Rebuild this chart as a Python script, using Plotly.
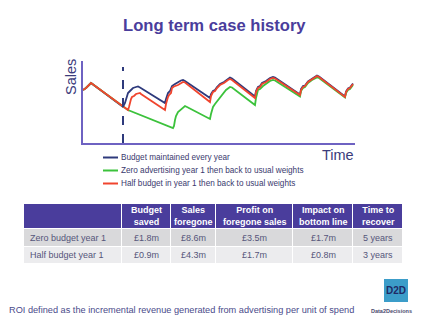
import plotly.graph_objects as go

# ---------------- data ----------------
series_names = [
    "Budget maintained every year",
    "Zero advertising year 1 then back to usual weights",
    "Half budget in year 1 then back to usual weights",
]
series_colors = ["#2E3A7C", "#3CC23C", "#F0452E"]

blue_t = [0, 3, 8, 40, 42, 43, 45, 47, 50, 53, 55, 57, 82, 83, 85, 87, 89, 92, 95, 98, 100, 102,
          127, 128, 130, 132, 134, 137, 141, 145, 147, 149, 172, 173, 175, 177, 179, 183, 187, 190, 192,
          217, 218, 220, 222, 225, 229, 234, 236, 262, 263, 265, 267, 270]
blue_s = [53, 55, 60, 36, 40, 43, 50, 52, 55, 56, 56.5, 55.5, 40, 44, 50, 52, 57, 59, 61, 62.5, 63, 62,
          45, 49, 52, 53, 56, 59, 61, 64.5, 65.5, 64.5, 46.5, 52, 56, 57, 60, 62, 65, 66, 65.5,
          48.5, 54, 57, 57.5, 61.5, 64.5, 67.5, 66.5, 46.5, 51.5, 54.5, 55.5, 59.5]

green_t = [0, 3, 8, 40, 45, 90, 91, 92, 93, 95, 97, 100, 102, 104, 127, 128, 129, 130, 132, 135, 139,
           143, 147, 149, 172, 173, 175, 177, 180, 184, 187, 190, 192, 217, 218, 220, 222, 225, 229,
           234, 236, 262, 263, 265, 267, 270]
green_s = [53, 55, 60, 36, 33, 15, 17, 23, 27, 31, 33, 36, 37, 36, 24, 29, 33, 36, 39, 43, 48,
           53, 56, 55.5, 38, 45, 53, 54, 57, 60, 62, 63, 62.5, 46.5, 52, 55, 56, 60, 63,
           65.5, 65, 45.5, 50, 53, 54, 58]

red_t = [0, 3, 8, 40, 45, 46, 47, 48, 49, 51, 53, 57, 58, 82, 83, 84, 85, 86, 88, 89, 91, 95, 98, 100,
         102, 127, 128, 130, 132, 134, 137, 141, 145, 147, 149, 172, 173, 175, 177, 179, 183, 187, 190,
         192, 217, 218, 220, 222, 225, 229, 234, 236, 262, 263, 265, 267, 270]
red_s = [53, 55, 60, 36, 33, 36, 41, 44, 46, 47, 49, 50, 49, 33, 39, 44, 46, 48, 50, 55, 56.5, 58, 60, 61,
         60.5, 41, 47, 51, 52, 55, 58, 60, 63, 64, 63, 45, 51, 55, 56, 59, 61, 64, 65,
         64.5, 48, 53, 56, 57, 61, 64, 67, 66, 46, 51, 54, 55, 59]

marker_time = 40  # dashed line (start of test year)

table_header = ["", "Budget<br>saved", "Sales<br>foregone", "Profit on<br>foregone sales",
                "Impact on<br>bottom line", "Time to<br>recover"]
row_labels = ["Zero budget year 1", "Half budget year 1"]
budget_saved = ["£1.8m", "£0.9m"]
sales_foregone = ["£8.6m", "£4.3m"]
profit_foregone = ["£3.5m", "£1.7m"]
impact_bottom = ["£1.7m", "£0.8m"]
time_recover = ["5 years", "3 years"]

# ---------------- figure ----------------
W, H = 432, 326
FONT = "Liberation Sans, Arial, sans-serif"
def px(x): return x / W
def py(y): return 1 - y / H

fig = go.Figure()
for t, s, name, col in zip([blue_t, green_t, red_t], [blue_s, green_s, red_s], series_names, series_colors):
    fig.add_trace(go.Scatter(x=t, y=s, mode="lines", name=name, line=dict(color=col, width=1.8),
                             showlegend=False, hoverinfo="skip"))

fig.add_shape(type="line", x0=marker_time, x1=marker_time, y0=0, y1=76, xref="x", yref="y",
              line=dict(color="#2E3A7C", width=2, dash="dash"))

axis_col = "#6E62C2"
fig.update_layout(
    width=W, height=H, margin=dict(l=0, r=0, t=0, b=0),
    paper_bgcolor="white", plot_bgcolor="white",
    font=dict(family=FONT),
    xaxis=dict(domain=[px(83), px(355)], range=[0, 272], showline=True, linecolor=axis_col, linewidth=1.5,
               showgrid=False, zeroline=False, showticklabels=False, ticks=""),
    yaxis=dict(domain=[py(143), py(61)], range=[0, 82], showline=True, linecolor=axis_col, linewidth=1.5,
               showgrid=False, zeroline=False, showticklabels=False, ticks=""),
)

annots = []
def note(text, x, y, size, color, xanchor="center", angle=0):
    annots.append(dict(text=text, x=px(x), y=py(y), xref="paper", yref="paper", xanchor=xanchor,
                       yanchor="middle", showarrow=False, textangle=angle,
                       font=dict(size=size, color=color, family=FONT)))

def rect(x0, y0, x1, y1, color):
    fig.add_shape(type="rect", x0=px(x0), x1=px(x1), y0=py(y1), y1=py(y0), xref="paper", yref="paper",
                  fillcolor=color, line=dict(width=0), layer="above")

note("<b>Long term case history</b>", 214, 25, 16.6, "#4A3D9C")
note("Sales", 71, 77, 14.5, "#3B3B7B", angle=-90)
note("Time", 356, 155, 14.5, "#3B3B7B", xanchor="right")

# manual legend
for i, (name, col) in enumerate(zip(series_names, series_colors)):
    yy = 157.5 + i * 13
    fig.add_shape(type="line", x0=px(103), x1=px(118), y0=py(yy), y1=py(yy), xref="paper", yref="paper",
                  line=dict(color=col, width=2))
    note(name, 119, yy - 0.5, 8.2, "#3A3A6E", xanchor="left")

# table drawn from the lists
col_edges = [24, 122, 171, 216, 293, 353, 403]
row_edges = [204, 229, 247, 264]
columns = [row_labels, budget_saved, sales_foregone, profit_foregone, impact_bottom, time_recover]
row_fills = ["#D9D9DB", "#ECECEE"]
for c in range(len(columns)):
    x0, x1 = col_edges[c], col_edges[c + 1]
    rect(x0, row_edges[0], x1 - 1, row_edges[1] - 1, "#4A3D9C")
    if table_header[c]:
        note("<b>" + table_header[c] + "</b>", (x0 + x1) / 2, (row_edges[0] + row_edges[1]) / 2 - 0.5, 9, "white")
    for r, val in enumerate(columns[c]):
        y0, y1 = row_edges[r + 1], row_edges[r + 2]
        rect(x0, y0, x1 - 1, y1 - 1, row_fills[r])
        if c == 0:
            note(val, x0 + 4, (y0 + y1) / 2 - 0.5, 9, "#55557A", xanchor="left")
        else:
            note(val, (x0 + x1) / 2, (y0 + y1) / 2 - 0.5, 9, "#55557A")

note("ROI defined as the incremental revenue generated from advertising per unit of spend",
     7, 310, 9.2, "#4A4A8A", xanchor="left")

# logo
rect(384, 279, 408, 302, "#3C9DC9")
note("<b>D2D</b>", 396, 290.5, 10, "#1F2A66")
note("<b>Data2Decisions</b>", 391, 311, 5.5, "#4A4A6E")

fig.update_layout(annotations=annots)
fig.write_html("out.html")
